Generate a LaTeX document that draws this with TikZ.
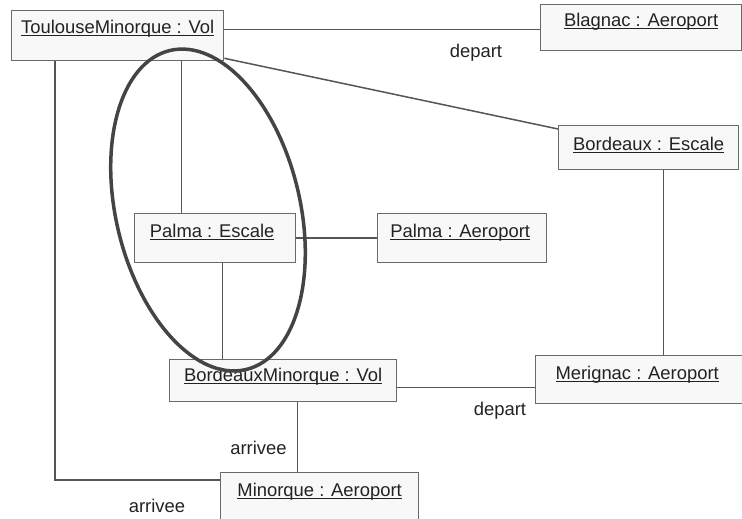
\documentclass[tikz,border=0pt]{standalone}
\usepackage{fontspec}
\setmainfont{Liberation Sans}
\definecolor{boxfill}{HTML}{F8F8F8}
\definecolor{boxline}{HTML}{6A6A6A}
\definecolor{edgeline}{HTML}{555555}
\definecolor{txt}{HTML}{222222}
\definecolor{ellcol}{HTML}{444444}
\newcommand\myul[1]{\setbox0\hbox{#1}\rlap{\rule[-2.7pt]{\wd0}{1.3pt}}\box0}
\tikzset{
  obj/.style={draw=boxline, fill=boxfill, line width=1.3pt, inner sep=0pt,
    anchor=north west, text=txt, font=\fontsize{18.4}{22}\selectfont},
  conn/.style={draw=edgeline, line width=1.5pt},
  lbl/.style={text=txt, inner sep=0pt, font=\fontsize{18.4}{22}\selectfont},
  ell/.style={draw=ellcol, line width=3.5pt}
}
\begin{document}
\begin{tikzpicture}[x=1pt,y=-1pt]
\useasboundingbox (0,0) rectangle (742,519);
% objects
\node[obj, minimum width=212pt, text height=23pt, text depth=27pt] (T) at (11,10) {\myul{ToulouseMinorque : Vol}};
\node[obj, minimum width=201pt, text height=22pt, text depth=24pt] (Bl) at (540,4) {\myul{Blagnac : Aeroport}};
\node[obj, minimum width=180pt, text height=25pt, text depth=19pt] (Be) at (558,125) {\myul{Bordeaux : Escale}};
\node[obj, minimum width=161pt, text height=24pt, text depth=25pt] (Pe) at (134,213) {\myul{Palma : Escale}\hspace*{6pt}};
\node[obj, minimum width=169pt, text height=24pt, text depth=25pt] (Pa) at (377,213) {\myul{Palma : Aeroport}\hspace*{4pt}};
\node[obj, minimum width=227pt, text height=22pt, text depth=20pt] (BM) at (169,359) {\myul{BordeauxMinorque : Vol}};
\node[obj, minimum width=212pt, text height=24pt, text depth=24pt] (Me) at (535,355) {\myul{Merignac : Aeroport}\hspace*{9pt}};
\node[obj, minimum width=198pt, text height=24pt, text depth=30pt] (Mi) at (220,472) {\myul{Minorque : Aeroport}};
% connectors
\draw[conn] ([yshift=6pt]T.east) -- ([yshift=6pt]T.east -| Bl.west);
\draw[conn] ([yshift=3pt]T.south east) -- ([yshift=-4pt]Be.north west);
\draw[conn] ([xshift=-33.5pt]Pe.north) -- ([xshift=-33.5pt]Pe.north |- T.south);
\draw[conn] ([xshift=7.5pt]Pe.south) -- ([xshift=7.5pt]Pe.south |- BM.north);
\draw[conn] (Pe.east) -- (Pa.west);
\draw[conn] ([xshift=15pt]Be.south) -- ([xshift=15pt]Be.south |- Me.north);
\draw[conn] ([yshift=-7pt]BM.east) -- ([yshift=-7pt]BM.east -| Me.west);
\draw[conn] ([xshift=14.5pt]BM.south) -- ([xshift=14.5pt]BM.south |- Mi.north);
\draw[conn] ([xshift=44pt]T.south west) |- ([yshift=-8pt]Mi.north west);
% labels
\node[lbl] (l1) at (476,53) {depart};
\node[lbl] (l2) at (500,411) {depart};
\node[lbl] (l3) at (258.5,448) {arrivee};
\node[lbl] (l4) at (157,506) {arrivee};
% ellipse
\draw[ell, rotate around={13.45:(208,210)}] (208,210) ellipse [x radius=92pt, y radius=164pt];
\end{tikzpicture}
\end{document}
